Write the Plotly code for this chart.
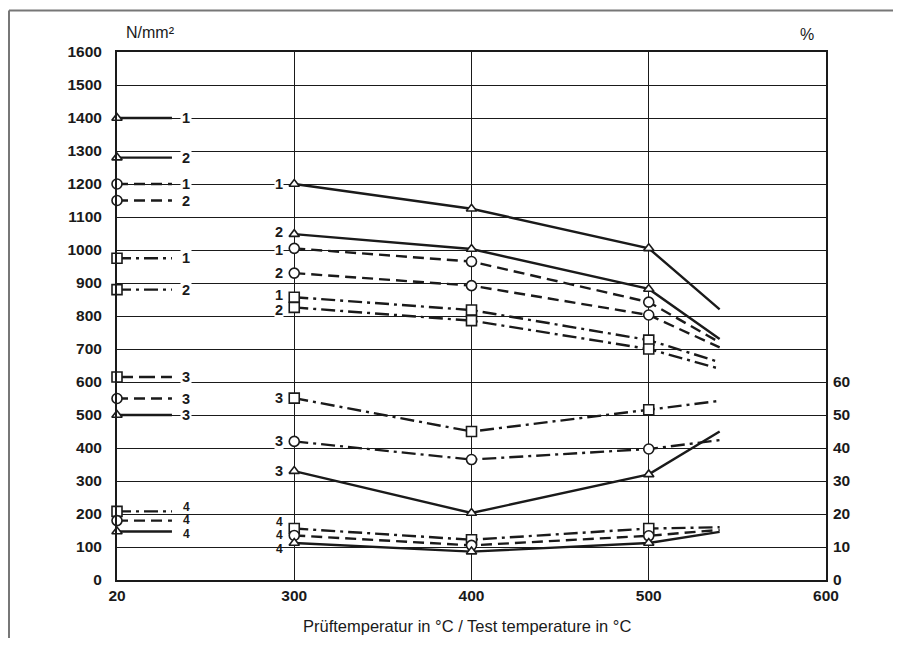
import plotly.graph_objects as go

# ---------------- data ----------------
temps = [300, 400, 500, 540]          # test temperatures (°C)
T_ROOM = 20                           # room temperature values (left legend)

# strength values, N/mm² (left axis)
tri1 = [1200, 1125, 1005, 820]; tri1_rt = 1400
tri2 = [1048, 1003, 882, 730];  tri2_rt = 1280
cir1 = [1005, 965, 842, 720];   cir1_rt = 1200
cir2 = [930, 892, 803, 705];    cir2_rt = 1150
sq1 = [857, 818, 727, 660];     sq1_rt = 975
sq2 = [826, 786, 700, 640];     sq2_rt = 880
# ductility values, % (right axis)
sq3 = [55.1, 45.0, 51.6, 54.3]; sq3_rt = 61.5
cir3 = [42.0, 36.5, 39.7, 42.4]; cir3_rt = 55.0
tri3 = [33.0, 20.3, 32.0, 45.0]; tri3_rt = 50.0
sq4 = [15.6, 12.2, 15.6, 16.0]; sq4_rt = 20.8
cir4 = [13.5, 10.5, 13.4, 15.2]; cir4_rt = 18.0
tri4 = [11.2, 8.6, 11.2, 14.6]; tri4_rt = 14.7

left_ticks = list(range(0, 1700, 100))
right_ticks = list(range(0, 70, 10))
x_tick_temps = [20, 300, 400, 500, 600]

# ---------------- layout constants ----------------
OFF = 8                                # page body margin of the browser
W, H = 901 - 2 * OFF, 646 - 2 * OFF
ML, MT = 117 - OFF, 52 - OFF
MR = W - (826 - OFF)
MB = H - (580 - OFF)
PW, PH = W - ML - MR, H - MT - MB
INK = "#1a1a1a"
FONT = "Liberation Sans"

def xpos(t):
    # broken axis: room temperature drawn at the left edge
    return t if t >= 300 else 200

def xp(px):   # screen pixel -> paper
    return (px - OFF - ML) / PW

def yp(py):
    return (H - MB - (py - OFF)) / PH

SOLID = "solid"
DASH = "11px,6px"
DASHDOT = "14px,5px,3px,5px"
LONGDASH = "16px,6px"

SYM = {"tri": ("triangle-up", 9), "cir": ("circle", 10), "sq": ("square", 10)}

series = [
    # values, rt, symbol, curve dash, legend dash, axis, label,
    # label yshift at 300 °C, label yshift at legend
    (tri1, tri1_rt, "tri", SOLID, SOLID, "y", "1", 0, 0),
    (tri2, tri2_rt, "tri", SOLID, SOLID, "y", "2", 2, 0),
    (cir1, cir1_rt, "cir", DASH, DASH, "y", "1", -2, 0),
    (cir2, cir2_rt, "cir", DASH, DASH, "y", "2", 0, 0),
    (sq1, sq1_rt, "sq", DASHDOT, DASHDOT, "y", "1", 2, 0),
    (sq2, sq2_rt, "sq", DASHDOT, DASHDOT, "y", "2", -3, 0),
    (sq3, sq3_rt, "sq", DASHDOT, LONGDASH, "y2", "3", 0, 0),
    (cir3, cir3_rt, "cir", DASHDOT, DASH, "y2", "3", 0, 0),
    (tri3, tri3_rt, "tri", SOLID, SOLID, "y2", "3", 0, 0),
    (sq4, sq4_rt, "sq", DASHDOT, DASHDOT, "y2", "4", 7, 4),
    (cir4, cir4_rt, "cir", DASH, DASH, "y2", "4", 0, 1),
    (tri4, tri4_rt, "tri", SOLID, SOLID, "y2", "4", -6, -3),
]

LEG_END = 231     # end of short legend segment (axis units)
LEG_LABEL = 239   # legend number position (axis units)

fig = go.Figure()

for vals, rt, sym, cdash, ldash, ax, lab, ys, ly in series:
    fig.add_trace(go.Scatter(
        x=[xpos(t) for t in temps], y=vals, yaxis=ax, mode="lines",
        line=dict(color=INK, width=2.4, dash=cdash), hoverinfo="skip"))
    fig.add_trace(go.Scatter(
        x=[xpos(T_ROOM), LEG_END], y=[rt, rt], yaxis=ax, mode="lines",
        line=dict(color=INK, width=2.4, dash=ldash), hoverinfo="skip"))

for vals, rt, sym, cdash, ldash, ax, lab, ys, ly in series:
    s, size = SYM[sym]
    fig.add_trace(go.Scatter(
        x=[xpos(T_ROOM)] + [xpos(t) for t in temps[:3]], y=[rt] + vals[:3],
        yaxis=ax, mode="markers", cliponaxis=False,
        marker=dict(symbol=s, size=size, color="white",
                    line=dict(color=INK, width=1.6)), hoverinfo="skip"))

lab_font = dict(family=FONT, size=14.5, color=INK, weight="bold")
small_font = dict(family=FONT, size=12, color=INK, weight="bold")
annotations = []
for vals, rt, sym, cdash, ldash, ax, lab, ys, ly in series:
    small = lab == "4"
    f = small_font if small else lab_font
    annotations.append(dict(x=xpos(temps[0]), y=vals[0], xref="x", yref=ax,
                            text=lab, showarrow=False, xshift=-15, yshift=ys,
                            xanchor="center", yanchor="middle",
                            bgcolor=None if small else "white", borderpad=0,
                            font=f))
    annotations.append(dict(x=LEG_LABEL, y=rt, xref="x", yref=ax,
                            text=lab, showarrow=False, yshift=ly,
                            xanchor="center", yanchor="middle",
                            bgcolor=None if small else "white",
                            borderpad=0 if small else 1, font=f))

annotations += [
    dict(x=xp(150), y=yp(32), xref="paper", yref="paper", text="N/mm²",
         xanchor="center", yanchor="middle",
         showarrow=False, font=dict(family=FONT, size=16, color=INK)),
    dict(x=xp(807), y=yp(35), xref="paper", yref="paper", text="%",
         xanchor="center", yanchor="middle",
         showarrow=False, font=dict(family=FONT, size=16, color=INK)),
    dict(x=xp(467), y=yp(626), xref="paper", yref="paper",
         xanchor="center", yanchor="middle",
         text="Prüftemperatur in °C / Test temperature in °C",
         showarrow=False, font=dict(family=FONT, size=16.5, color=INK)),
]

shapes = [
    dict(type="line", xref="paper", yref="paper", x0=xp(9), x1=xp(901),
         y0=yp(10.5), y1=yp(10.5), line=dict(color="#777", width=2)),
    dict(type="line", xref="paper", yref="paper", x0=xp(9), x1=xp(9),
         y0=yp(10.5), y1=yp(646), line=dict(color="#777", width=2)),
]

tickfont = dict(family=FONT, size=15.5, color=INK, weight="bold")

fig.update_layout(
    width=W, height=H, margin=dict(l=ML, r=MR, t=MT, b=MB, autoexpand=False),
    paper_bgcolor="white", plot_bgcolor="white", showlegend=False,
    annotations=annotations, shapes=shapes,
    xaxis=dict(range=[200, 600], tickvals=[xpos(t) for t in x_tick_temps],
               ticktext=[str(t) for t in x_tick_temps], showgrid=True,
               gridcolor=INK, gridwidth=1.3, zeroline=False, showline=True,
               mirror=True, linecolor=INK, linewidth=2, ticks="",
               ticklabelstandoff=0, tickfont=tickfont, fixedrange=True),
    yaxis=dict(range=[0, 1600], tickvals=left_ticks, showgrid=True,
               gridcolor=INK, gridwidth=1.4, zeroline=False, showline=True,
               mirror=True, linecolor=INK, linewidth=2, ticks="",
               ticklabelstandoff=10, tickfont=tickfont),
    yaxis2=dict(range=[0, 160], tickvals=right_ticks, overlaying="y",
                side="right", showgrid=False, zeroline=False, showline=False,
                ticks="", ticklabelstandoff=6, tickfont=tickfont),
)

fig.write_html("out.html")
